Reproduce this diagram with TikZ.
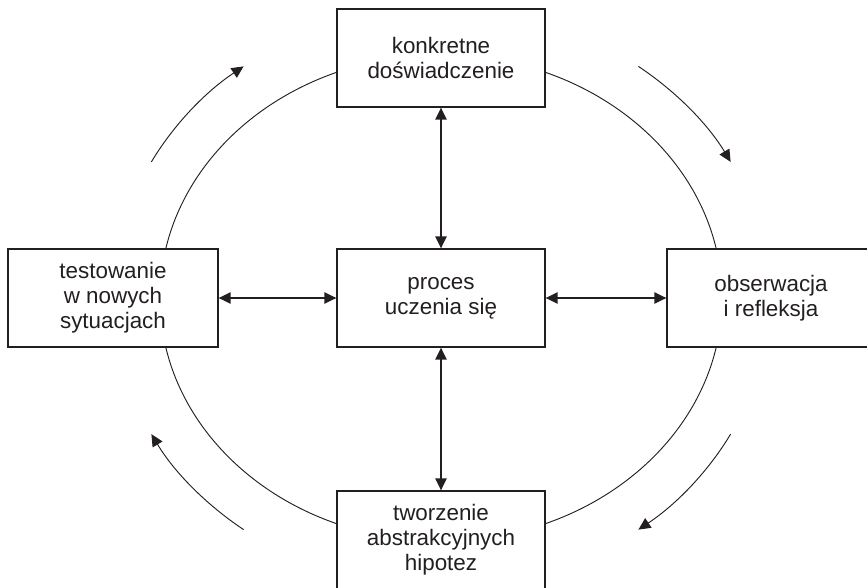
\documentclass[tikz,border=0pt]{standalone}
\usepackage{fontspec}
\setmainfont{Liberation Sans}
\usetikzlibrary{arrows.meta,calc}
\definecolor{ink}{RGB}{35,31,32}
\begin{document}
\begin{tikzpicture}[x=0.75pt,y=-0.75pt,
  stage/.style={draw=ink, line width=1pt, fill=white, minimum width=156pt,
    minimum height=73.5pt, inner sep=0pt, align=center, text=ink,
    font=\fontsize{16.8pt}{18.75pt}\selectfont},
  link/.style={draw=ink, line width=1.1pt,
    {Triangle[length=9pt,width=8.5pt]}-{Triangle[length=9pt,width=8.5pt]}},
  flow/.style={draw=ink, line width=0.7pt, -{Triangle[length=9pt,width=8.5pt]}},
  ring/.style={draw=ink, line width=0.7pt}]
\useasboundingbox (0,0) rectangle (867,588);
\clip (0,0) rectangle (867,588);

\coordinate (c) at (441,298);

% the learning cycle
\draw[ring] (c) ellipse [x radius=210.75pt, y radius=182.25pt];

% direction of the cycle
\draw[flow] ($(c)+(152:246pt and 217.5pt)$) arc[start angle=152, end angle=127, x radius=246pt, y radius=217.5pt];
\draw[flow] ($(c)+(53:246pt and 217.5pt)$) arc[start angle=53, end angle=28, x radius=246pt, y radius=217.5pt];
\draw[flow] ($(c)+(-28:246pt and 217.5pt)$) arc[start angle=-28, end angle=-53, x radius=246pt, y radius=217.5pt];
\draw[flow] ($(c)+(233:246pt and 217.5pt)$) arc[start angle=233, end angle=208, x radius=246pt, y radius=217.5pt];

% stages
\node[stage] (top) at (441,58) {konkretne\\doświadczenie};
\node[stage] (mid) at (441,298) {proces\\uczenia się};
\node[stage, minimum width=157.5pt] (left) at (113,298) {testowanie\\w nowych\\sytuacjach};
\node[stage] (right) at (771,298) {obserwacja\\i refleksja};
\node[stage] (bottom) at (441,540) {tworzenie\\abstrakcyjnych\\hipotez};

% links to the centre
\draw[link] (top.south) -- (mid.north);
\draw[link] (mid.south) -- (bottom.north);
\draw[link] (left.east) -- (mid.west);
\draw[link] (mid.east) -- (right.west);
\end{tikzpicture}
\end{document}
